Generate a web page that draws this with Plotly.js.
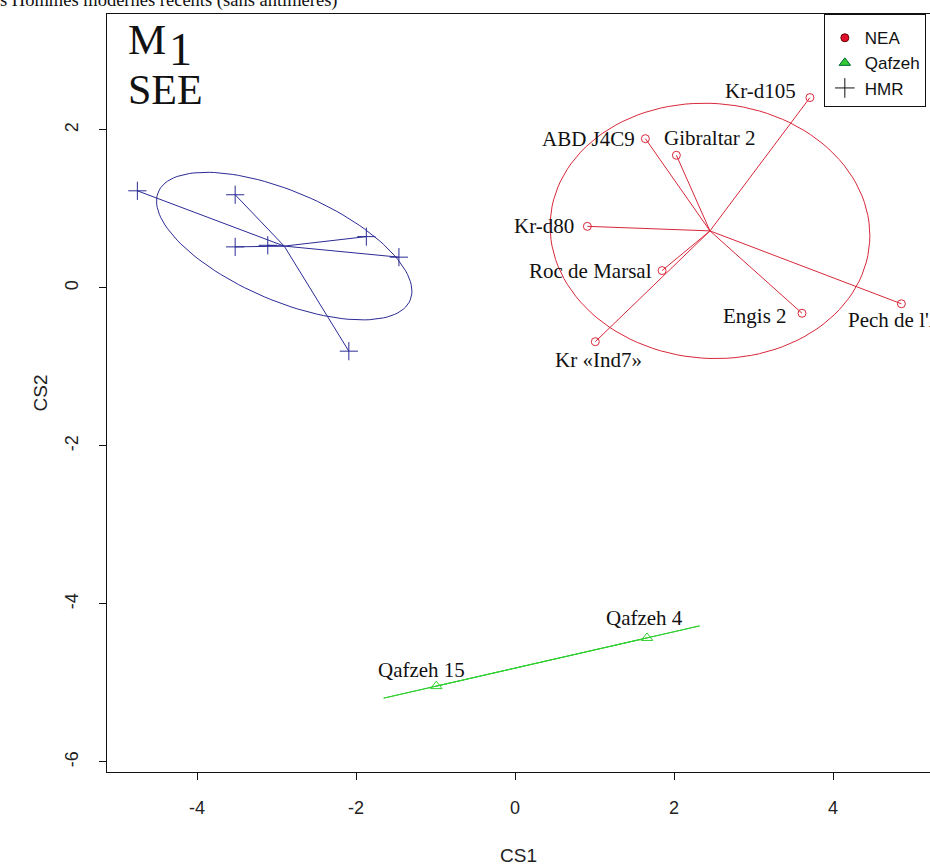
<!DOCTYPE html>
<html>
<head>
<meta charset="utf-8">
<script src="https://cdn.plot.ly/plotly-3.0.1.min.js"></script>
<style>html,body{margin:0;padding:0;background:#fff;overflow:hidden}</style>
</head>
<body>
<div id="chart" style="width:930px;height:866px"></div>
<script>
// ---- data ----
const neaNames = ['Kr-d105', 'ABD J4C9', 'Gibraltar 2', 'Kr-d80', 'Roc de Marsal', 'Engis 2', "Pech de l'Azé I", 'Kr «Ind7»'];
const neaX = [3.71, 1.64, 2.03, 0.91, 1.85, 3.61, 4.86, 1.01];
const neaY = [2.41, 1.89, 1.68, 0.78, 0.22, -0.32, -0.20, -0.68];

const qafzehNames = ['Qafzeh 4', 'Qafzeh 15'];
const qafzehX = [1.66, -0.99];
const qafzehY = [-4.43, -5.04];

const hmrX = [-4.75, -3.52, -3.52, -3.11, -1.87, -1.46, -2.09];
const hmrY = [1.23, 1.18, 0.52, 0.54, 0.65, 0.39, -0.80];

const groupNames = ['NEA', 'Qafzeh', 'HMR'];
const xTicks = [-4, -2, 0, 2, 4];
const yTicks = [-6, -4, -2, 0, 2];

// ---- styles ----
const RED = '#d8283a', GREEN = '#2fcf2f', BLUE = '#2b2b96';
const ELLIPSE_SCALE = 1.5;
const SERIF = '"Liberation Serif", "Times New Roman", serif';
const SANS = 'Arial, "Liberation Sans", sans-serif';

const neaLabelStyle = [
  {xa: 'right', xs: -12, ys: 7},
  {xa: 'right', xs: -8, ys: 0},
  {xa: 'left', xs: -14, ys: 17},
  {xa: 'right', xs: -11, ys: 0},
  {xa: 'right', xs: -8, ys: 0},
  {xa: 'right', xs: -13, ys: -3},
  {xa: 'left', xs: -55, ys: -16},
  {xa: 'center', xs: 3, ys: -18}
];
const qafzehLabelStyle = [
  {xa: 'center', xs: -2, ys: 20},
  {xa: 'center', xs: -15, ys: 16}
];

// ---- helpers ----
function mean(a) { return a.reduce((s, v) => s + v, 0) / a.length; }
function ellipse(xs, ys) {
  const mx = mean(xs), my = mean(ys), n = xs.length;
  let sxx = 0, syy = 0, sxy = 0;
  for (let i = 0; i < n; i++) {
    const dx = xs[i] - mx, dy = ys[i] - my;
    sxx += dx * dx; syy += dy * dy; sxy += dx * dy;
  }
  sxx /= n; syy /= n; sxy /= n;
  const l11 = Math.sqrt(sxx), l21 = sxy / l11, l22 = Math.sqrt(Math.max(0, syy - l21 * l21));
  const ex = [], ey = [];
  for (let k = 0; k <= 120; k++) {
    const t = 2 * Math.PI * k / 120;
    ex.push(mx + ELLIPSE_SCALE * l11 * Math.cos(t));
    ey.push(my + ELLIPSE_SCALE * (l21 * Math.cos(t) + l22 * Math.sin(t)));
  }
  return {ex, ey};
}
function star(xs, ys) {
  const mx = mean(xs), my = mean(ys), sx = [], sy = [];
  for (let i = 0; i < xs.length; i++) { sx.push(mx, xs[i], null); sy.push(my, ys[i], null); }
  return {sx, sy};
}

const traces = [];
function addGroup(xs, ys, color, symbol, size) {
  const e = ellipse(xs, ys), s = star(xs, ys);
  traces.push({x: e.ex, y: e.ey, mode: 'lines', line: {color: color, width: 1}, showlegend: false, hoverinfo: 'skip'});
  traces.push({x: s.sx, y: s.sy, mode: 'lines', line: {color: color, width: 1}, showlegend: false, hoverinfo: 'skip'});
  traces.push({x: xs, y: ys, mode: 'markers', marker: {symbol: symbol, size: size, color: color, line: {width: 1, color: color}}, showlegend: false});
}
addGroup(neaX, neaY, RED, 'circle-open', 8);
addGroup(qafzehX, qafzehY, GREEN, 'triangle-up-open', 10);
addGroup(hmrX, hmrY, BLUE, 'cross-thin-open', 13);

// legend-only entries
traces.push({x: [null], y: [null], mode: 'markers', name: groupNames[0], marker: {symbol: 'circle', size: 8, color: '#e0102a', line: {width: 1, color: '#600'}}});
traces.push({x: [null], y: [null], mode: 'markers', name: groupNames[1], marker: {symbol: 'triangle-up', size: 10, color: '#33cc33', line: {width: 1, color: '#063'}}});
traces.push({x: [null], y: [null], mode: 'markers', name: groupNames[2], marker: {symbol: 'cross-thin-open', size: 14, color: '#111', line: {width: 1, color: '#111'}}});

const annotations = [];
neaNames.forEach((n, i) => annotations.push({
  x: neaX[i], y: neaY[i], xref: 'x', yref: 'y', text: n, showarrow: false,
  xanchor: neaLabelStyle[i].xa, yanchor: 'middle', xshift: neaLabelStyle[i].xs, yshift: neaLabelStyle[i].ys,
  font: {family: SERIF, size: 21, color: '#111'}
}));
qafzehNames.forEach((n, i) => annotations.push({
  x: qafzehX[i], y: qafzehY[i], xref: 'x', yref: 'y', text: n, showarrow: false,
  xanchor: qafzehLabelStyle[i].xa, yanchor: 'middle', xshift: qafzehLabelStyle[i].xs, yshift: qafzehLabelStyle[i].ys,
  font: {family: SERIF, size: 21, color: '#111'}
}));
// page heading (cut at top) and panel labels
annotations.push({xref: 'paper', yref: 'paper', x: -0.133, y: 1.0172, xanchor: 'left', yanchor: 'middle', showarrow: false,
  text: 's Hommes modernes récents (sans antimères)', font: {family: SERIF, size: 18.5, color: '#111'}});
annotations.push({xref: 'paper', yref: 'paper', x: 0.0231, y: 0.966, xanchor: 'left', yanchor: 'middle', showarrow: false,
  text: 'M', font: {family: SERIF, size: 43, color: '#111'}});
annotations.push({xref: 'paper', yref: 'paper', x: 0.0735, y: 0.953, xanchor: 'left', yanchor: 'middle', showarrow: false,
  text: '1', font: {family: SERIF, size: 46, color: '#111'}});
annotations.push({xref: 'paper', yref: 'paper', x: 0.0231, y: 0.8997, xanchor: 'left', yanchor: 'middle', showarrow: false,
  text: 'SEE', font: {family: SERIF, size: 42, color: '#111'}});

const layout = {
  width: 930, height: 866,
  margin: {l: 107, r: 0, t: 14, b: 94},
  paper_bgcolor: '#fff', plot_bgcolor: '#fff',
  showlegend: true,
  legend: {x: 0.871, y: 1, xanchor: 'left', yanchor: 'top', bordercolor: '#111', borderwidth: 1,
    bgcolor: '#fff', font: {family: SANS, size: 17, color: '#111'}, itemwidth: 30, tracegroupgap: 0,
    title: {text: ' ', font: {size: 4}}},
  xaxis: {range: [-5.132, 5.22], tickvals: xTicks, ticktext: xTicks.map(String), ticks: 'outside', ticklen: 7,
    tickcolor: '#111', showline: true, linecolor: '#111', linewidth: 1, mirror: true, showgrid: false, zeroline: false,
    tickfont: {family: SANS, size: 18, color: '#222'}, ticklabelstandoff: 12,
    title: {text: 'CS1', font: {family: SANS, size: 19, color: '#222'}, standoff: 35}},
  yaxis: {range: [-6.127, 3.468], tickvals: yTicks, ticktext: yTicks.map(String), ticks: 'outside', ticklen: 7,
    tickcolor: '#111', showline: true, linecolor: '#111', linewidth: 1, mirror: false, showgrid: false, zeroline: false,
    tickangle: -90, tickfont: {family: SANS, size: 18, color: '#222'}, ticklabelstandoff: 14,
    title: {text: 'CS2', font: {family: SANS, size: 19, color: '#222'}, standoff: 9}},
  annotations: annotations
};

Plotly.newPlot('chart', traces, layout, {staticPlot: true, displayModeBar: false});
</script>
</body>
</html>
